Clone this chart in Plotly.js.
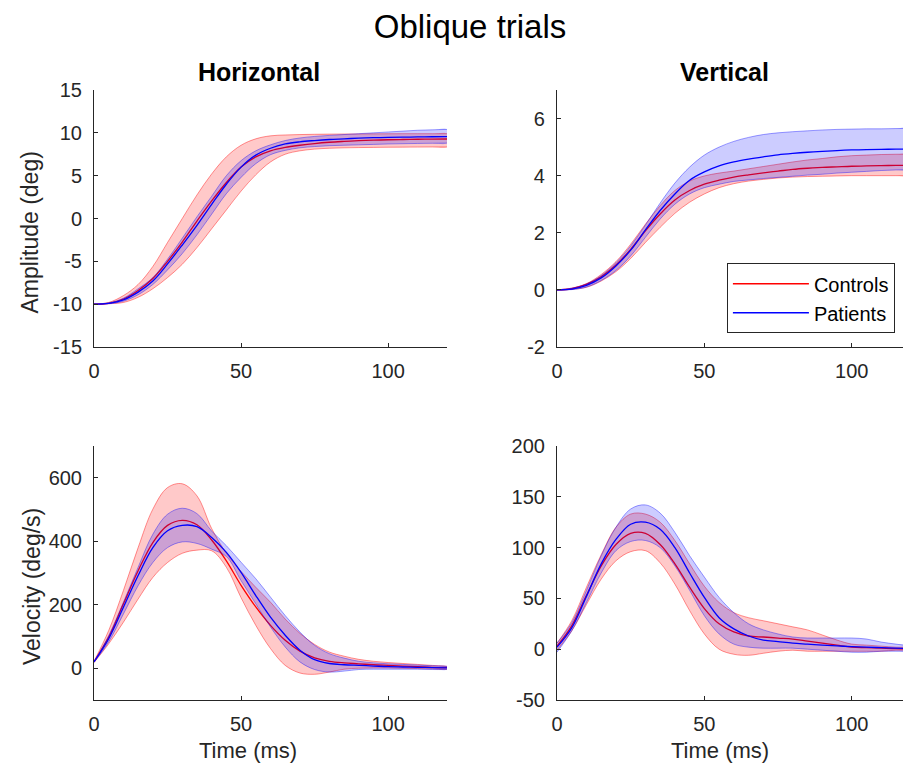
<!DOCTYPE html>
<html>
<head>
<meta charset="utf-8">
<script src="https://cdn.plot.ly/plotly-3.0.1.min.js"></script>
<style>html,body{margin:0;padding:0;background:#fff;}#chart{width:903px;height:769px;}</style>
</head>
<body>
<div id="chart"></div>
<script>
// Time axis (ms)
const time = [0,5,10,15,20,25,30,35,40,45,50,55,60,65,70,75,80,85,90,95,100,105,110,115,120];

// Horizontal amplitude (deg)
const hAmpCtrlMean  = [-10,-9.9,-9.4,-8.4,-7.0,-5.0,-2.75,-0.3,2.05,4.2,6.0,7.2,7.9,8.3,8.55,8.75,8.9,9.0,9.08,9.14,9.19,9.22,9.25,9.27,9.28];
const hAmpCtrlUpper = [-10,-9.8,-9.0,-7.7,-5.6,-2.8,0.0,2.75,5.2,7.2,8.55,9.3,9.65,9.75,9.8,9.83,9.85,9.86,9.87,9.88,9.89,9.9,9.9,9.9,9.9];
const hAmpCtrlLower = [-10,-9.95,-9.8,-9.2,-8.2,-6.9,-5.35,-3.4,-1.2,1.0,3.2,5.1,6.6,7.5,7.9,8.1,8.2,8.25,8.28,8.3,8.32,8.33,8.34,8.35,8.35];
const hAmpPatMean   = [-10,-9.9,-9.5,-8.6,-7.3,-5.3,-3.1,-0.8,1.65,4.0,6.0,7.4,8.2,8.7,8.95,9.1,9.22,9.3,9.38,9.43,9.47,9.5,9.52,9.54,9.55];
const hAmpPatUpper  = [-10,-9.85,-9.3,-8.2,-6.9,-4.75,-2.3,0.2,2.6,5.0,6.75,7.9,8.6,9.1,9.4,9.58,9.7,9.8,9.9,10.0,10.1,10.2,10.3,10.35,10.4];
const hAmpPatLower  = [-10,-9.95,-9.65,-8.9,-7.7,-6.0,-4.1,-1.9,0.5,2.9,4.8,6.4,7.45,7.95,8.25,8.4,8.5,8.55,8.6,8.65,8.7,8.73,8.76,8.78,8.8];

// Vertical amplitude (deg)
const vAmpCtrlMean  = [0,0.04,0.19,0.46,0.87,1.42,2.07,2.66,3.15,3.48,3.7,3.84,3.95,4.03,4.1,4.16,4.22,4.26,4.29,4.31,4.33,4.34,4.35,4.36,4.36];
const vAmpCtrlUpper = [0,0.06,0.22,0.54,0.99,1.6,2.3,2.95,3.48,3.81,3.99,4.09,4.16,4.24,4.32,4.4,4.48,4.55,4.6,4.66,4.7,4.72,4.74,4.75,4.75];
const vAmpCtrlLower = [0,0.02,0.09,0.31,0.64,1.1,1.66,2.19,2.68,3.07,3.36,3.58,3.72,3.81,3.87,3.92,3.95,3.97,3.98,3.99,4.0,4.0,4.0,4.0,4.0];
const vAmpPatMean   = [0,0.03,0.16,0.42,0.84,1.39,2.1,2.78,3.36,3.84,4.13,4.34,4.48,4.58,4.66,4.73,4.78,4.82,4.85,4.88,4.9,4.91,4.92,4.93,4.93];
const vAmpPatUpper  = [0,0.06,0.21,0.5,0.95,1.54,2.27,3.04,3.74,4.3,4.72,5.0,5.2,5.34,5.44,5.5,5.54,5.57,5.6,5.62,5.63,5.64,5.64,5.65,5.65];
const vAmpPatLower  = [0,0.01,0.1,0.33,0.68,1.19,1.84,2.48,3.0,3.36,3.58,3.7,3.8,3.85,3.9,3.94,3.98,4.02,4.05,4.09,4.12,4.15,4.18,4.2,4.21];

// Horizontal velocity (deg/s)
const hVelCtrlMean  = [20,98,203,307,396,450,466,452,404,338,261,193,135,88,54,33,22,17,14,11,9,7,5,3,2];
const hVelCtrlUpper = [22,119,245,380,501,569,581,543,440,362,305,255,208,155,110,75,51,38,28,22,18,15,12,9,6];
const hVelCtrlLower = [18,77,145,218,286,333,362,372,370,318,222,135,62,9,-15,-19,-12,-3,0,1,1,0,-1,-2,-3];
const hVelPatMean   = [20,93,192,292,380,433,450,446,412,365,302,229,161,104,57,27,15,11,9,7,5,4,3,2,1];
const hVelPatUpper  = [21,103,208,318,422,485,504,487,432,386,334,282,224,166,114,72,46,32,22,17,14,12,10,8,6];
const hVelPatLower  = [19,83,171,260,333,380,398,393,375,352,276,203,130,67,20,-4,-12,-9,-4,-3,-3,-3,-3,-4,-4];

// Vertical velocity (deg/s)
const vVelCtrlMean  = [3,23,53,82,103,114,114,103,84,61,40,25,17,13,12,11,10,8,6,4,2,1.5,1,0.5,0.3];
const vVelCtrlUpper = [6,28,61,93,120,133,133,125,107,84,62,46,36,31,28,25,22,19,14,9,5,4,3,2,2];
const vVelCtrlLower = [-1,18,44,69,87,96,97,85,64,38,15,0,-5,-6,-4,-2,-1,-2,-2,-2,-2,-2,-2,-1,-1];
const vVelPatMean   = [2,21,52,84,108,123,125,118,100,75,51,31,20,13,9,7.5,6,5,4,3.2,2.6,2,1.5,1,0.7];
const vVelPatUpper  = [6,26,58,92,120,138,142,134,115,92,71,51,36,25,19,15,12,11,11,11,11,10,7,5,3];
const vVelPatLower  = [-3,18,46,75,97,106,107,100,82,58,33,15,5,2,1,1,1,0,-1,-2,-3,-3,-2,-2,-2];

// Tick values and labels
const xTicks = [0,50,100];
const xTickText = ['0','50','100'];
const hAmpTicks = [-15,-10,-5,0,5,10,15];
const hAmpTickText = ['-15','-10','-5','0','5','10','15'];
const vAmpTicks = [-2,0,2,4,6];
const vAmpTickText = ['-2','0','2','4','6'];
const hVelTicks = [0,200,400,600];
const hVelTickText = ['0','200','400','600'];
const vVelTicks = [-50,0,50,100,150,200];
const vVelTickText = ['-50','0','50','100','150','200'];

const groupNames = ['Controls','Patients'];

const RED = 'rgb(255,0,0)', BLUE = 'rgb(0,0,255)';
const RED_EDGE = 'rgba(255,0,0,0.42)', BLUE_EDGE = 'rgba(0,0,255,0.38)';
const RED_FILL = 'rgba(255,0,0,0.21)', BLUE_FILL = 'rgba(0,0,255,0.2)';

const traces = [];
function addGroup(xa, ya, lower, upper, mean, color, edge, fill, name, showLeg) {
  // shaded band as a closed polygon (upper forward, lower backward)
  const polyX = time.concat(time.slice().reverse());
  const polyY = upper.concat(lower.slice().reverse());
  traces.push({x: polyX, y: polyY, xaxis: xa, yaxis: ya, type: 'scatter', mode: 'lines',
    fill: 'toself', fillcolor: fill, line: {width: 0, color: fill, shape: 'spline'},
    showlegend: false, hoverinfo: 'skip'});
  traces.push({x: time, y: lower, xaxis: xa, yaxis: ya, type: 'scatter', mode: 'lines',
    line: {color: edge, width: 1, shape: 'spline'}, showlegend: false, hoverinfo: 'skip'});
  traces.push({x: time, y: upper, xaxis: xa, yaxis: ya, type: 'scatter', mode: 'lines',
    line: {color: edge, width: 1, shape: 'spline'}, showlegend: false, hoverinfo: 'skip'});
  traces.push({x: time, y: mean, xaxis: xa, yaxis: ya, type: 'scatter', mode: 'lines',
    line: {color: color, width: 1.3, shape: 'spline'}, name: name, showlegend: showLeg});
}

addGroup('x','y', hAmpCtrlLower, hAmpCtrlUpper, hAmpCtrlMean, RED, RED_EDGE, RED_FILL, groupNames[0], false);
addGroup('x','y', hAmpPatLower, hAmpPatUpper, hAmpPatMean, BLUE, BLUE_EDGE, BLUE_FILL, groupNames[1], false);
addGroup('x2','y2', vAmpCtrlLower, vAmpCtrlUpper, vAmpCtrlMean, RED, RED_EDGE, RED_FILL, groupNames[0], true);
addGroup('x2','y2', vAmpPatLower, vAmpPatUpper, vAmpPatMean, BLUE, BLUE_EDGE, BLUE_FILL, groupNames[1], true);
addGroup('x3','y3', hVelCtrlLower, hVelCtrlUpper, hVelCtrlMean, RED, RED_EDGE, RED_FILL, groupNames[0], false);
addGroup('x3','y3', hVelPatLower, hVelPatUpper, hVelPatMean, BLUE, BLUE_EDGE, BLUE_FILL, groupNames[1], false);
addGroup('x4','y4', vVelCtrlLower, vVelCtrlUpper, vVelCtrlMean, RED, RED_EDGE, RED_FILL, groupNames[0], false);
addGroup('x4','y4', vVelPatLower, vVelPatUpper, vVelPatMean, BLUE, BLUE_EDGE, BLUE_FILL, groupNames[1], false);

const AX = '#262626';
const FONT = 'Liberation Sans, Arial, sans-serif';
function xAxis(domain, range, anchor) {
  return {domain: domain, range: range, anchor: anchor, tickvals: xTicks, ticktext: xTickText,
    ticks: 'inside', ticklen: 4, tickcolor: AX, tickwidth: 1, showline: true, linecolor: AX, linewidth: 1,
    showgrid: false, zeroline: false, tickfont: {family: FONT, size: 20, color: AX}, ticklabelstandoff: 6,
    fixedrange: true};
}
function yAxis(domain, range, anchor, vals, text) {
  return {domain: domain, range: range, anchor: anchor, tickvals: vals, ticktext: text,
    ticks: 'inside', ticklen: 4, tickcolor: AX, tickwidth: 1, showline: true, linecolor: AX, linewidth: 1,
    showgrid: false, zeroline: false, tickfont: {family: FONT, size: 20, color: AX}, ticklabelstandoff: 7,
    fixedrange: true};
}

const xL = [0, 0.43634], xR = [0.57231, 1];
const yT = [0.5787, 1], yB = [0, 0.4164];

function label(text, xref, yref, x, y, xshift, yshift, angle, size, bold) {
  return {text: bold ? '<b>' + text + '</b>' : text, xref: xref, yref: yref, x: x, y: y,
    xshift: xshift, yshift: yshift, textangle: angle, xanchor: 'center', yanchor: 'middle',
    showarrow: false, font: {family: FONT, size: size, color: bold ? '#000000' : AX}};
}

const layout = {
  width: 903, height: 769,
  margin: {l: 94, r: 0, t: 90, b: 69},
  paper_bgcolor: '#ffffff', plot_bgcolor: '#ffffff',
  font: {family: FONT, color: AX},
  title: {text: 'Oblique trials', font: {family: FONT, size: 33, color: '#000000'},
    x: 0.4648, xanchor: 'center', xref: 'paper', y: 0.965, yanchor: 'middle', yref: 'container'},
  xaxis: xAxis(xL, [0, 120], 'y'),
  yaxis: yAxis(yT, [-15, 15], 'x', hAmpTicks, hAmpTickText),
  xaxis2: xAxis(xR, [0, 117.4], 'y2'),
  yaxis2: yAxis(yT, [-2, 7], 'x2', vAmpTicks, vAmpTickText),
  xaxis3: xAxis(xL, [0, 120], 'y3'),
  yaxis3: yAxis(yB, [-100, 700], 'x3', hVelTicks, hVelTickText),
  xaxis4: xAxis(xR, [0, 117.4], 'y4'),
  yaxis4: yAxis(yB, [-50, 200], 'x4', vVelTicks, vVelTickText),
  showlegend: true,
  legend: {x: 0.99, xanchor: 'right', y: 0.716, yanchor: 'top', xref: 'paper', yref: 'paper',
    bgcolor: '#ffffff', bordercolor: AX, borderwidth: 1, traceorder: 'normal', itemwidth: 76,
    font: {family: FONT, size: 20, color: '#000000'}, tracegroupgap: 0},
  annotations: [
    label('Horizontal', 'x domain', 'y domain', 0.5, 1, -11, 18, 0, 25, true),
    label('Vertical', 'x2 domain', 'y2 domain', 0.5, 1, -5, 18, 0, 25, true),
    label('Amplitude (deg)', 'x domain', 'y domain', 0, 0.5, -64, -14, -90, 23, false),
    label('Velocity (deg/s)', 'x3 domain', 'y3 domain', 0, 0.5, -62, -14, -90, 23, false),
    label('Time (ms)', 'x3 domain', 'y3 domain', 0.5, 0, -22, -50, 0, 22, false),
    label('Time (ms)', 'x4 domain', 'y4 domain', 0.5, 0, -10, -50, 0, 22, false)
  ],
  hovermode: false
};

Plotly.newPlot('chart', traces, layout, {displayModeBar: false, staticPlot: true});
</script>
</body>
</html>
